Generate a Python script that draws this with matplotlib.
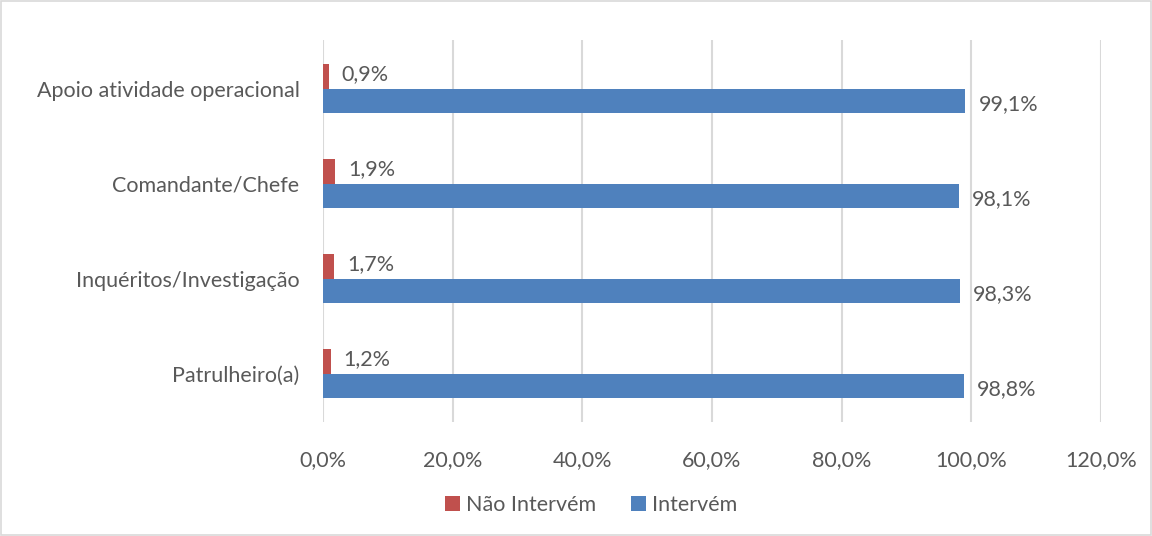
import numpy as np
import matplotlib
matplotlib.use("Agg")
import matplotlib.pyplot as plt
from matplotlib.ticker import FuncFormatter

plt.rcParams['font.family'] = ['Lato', 'DejaVu Sans']

categories = ["Patrulheiro(a)", "Inquéritos/Investigação", "Comandante/Chefe", "Apoio atividade operacional"]
nao_intervem = [1.2, 1.7, 1.9, 0.9]
intervem = [98.8, 98.3, 98.1, 99.1]

red = "#C0504D"
blue = "#4F81BD"
text_col = "#595959"
grid_col = "#D9D9D9"
fs = 15.5

fig = plt.figure(figsize=(11.52, 5.36), dpi=100)
ax = fig.add_axes([0.2804, 0.2127, 0.6753, 0.7123])

y = np.arange(len(categories))
h = 0.26
ax.barh(y + h / 2, nao_intervem, height=h, color=red, label="Não Intervém", zorder=3)
ax.barh(y - h / 2, intervem, height=h, color=blue, label="Intervém", zorder=3)

def pct(v):
    return f"{v:.1f}%".replace(".", ",")

for yi, v in zip(y, nao_intervem):
    ax.text(v + 2.0, yi + h / 2 + 0.02, pct(v), va="center", ha="left", fontsize=fs, color=text_col)
for yi, v in zip(y, intervem):
    ax.text(v + 2.0, yi - h / 2 - 0.03, pct(v), va="center", ha="left", fontsize=fs, color=text_col)

ax.set_xlim(0, 120)
ax.set_ylim(-0.51, 3.51)
ax.set_xticks(np.arange(0, 121, 20))
ax.xaxis.set_major_formatter(FuncFormatter(lambda v, p: pct(v)))
ax.set_yticks(y)
ax.set_yticklabels(categories)
ax.tick_params(axis="both", length=0, labelsize=fs, labelcolor=text_col)
ax.tick_params(axis="y", pad=17)
ax.tick_params(axis="x", pad=20)
ax.grid(axis="x", color=grid_col, linewidth=1.5, zorder=0)
for s in ax.spines.values():
    s.set_visible(False)

handles, labels = ax.get_legend_handles_labels()
fig.legend(handles, labels, loc="center", bbox_to_anchor=(0.513, 0.058), ncol=2, frameon=False,
           fontsize=fs, labelcolor=text_col, handlelength=0.7, handleheight=0.7,
           handletextpad=0.3, columnspacing=1.6)

fig.patches.append(plt.Rectangle((0.001, 0.001), 0.998, 0.997, transform=fig.transFigure,
                                 fill=False, edgecolor=grid_col, linewidth=1.2))

fig.savefig("out.png", dpi=100)
